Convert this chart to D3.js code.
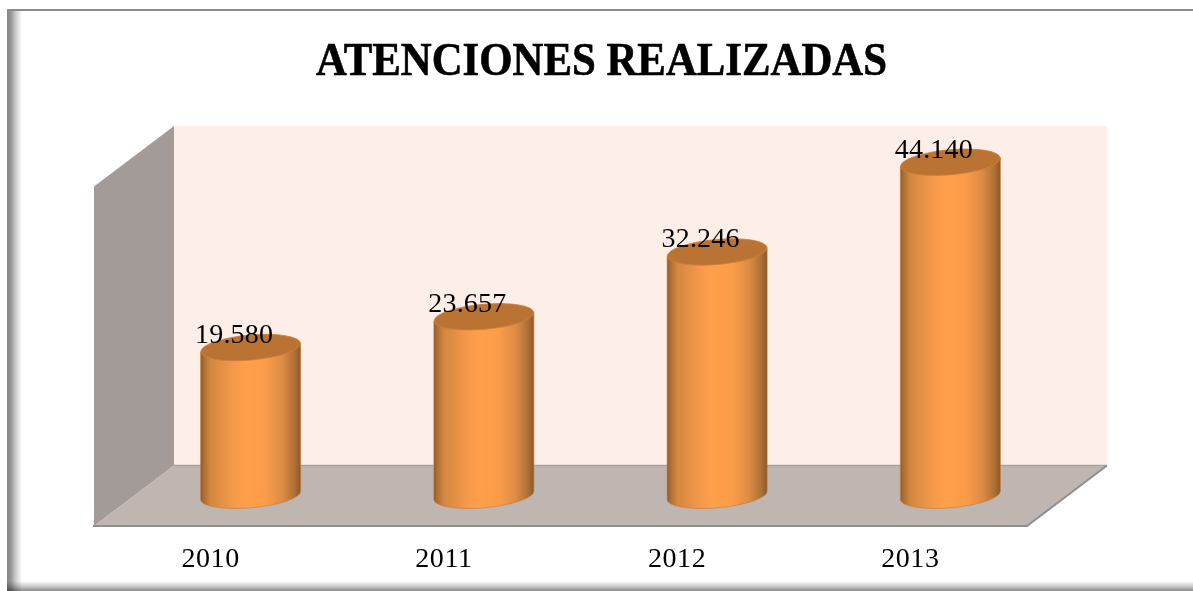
<!DOCTYPE html>
<html><head><meta charset="utf-8">
<script src="https://cdn.jsdelivr.net/npm/d3@7/dist/d3.min.js"></script>
<style>html,body{margin:0;padding:0;background:#fff}svg{display:block}text{font-family:"Liberation Serif",serif;fill:#000}</style>
</head><body><svg id="c" width="1193" height="591"></svg>
<script>
const years = ["2010","2011","2012","2013"];
const atenciones = [19580,23657,32246,44140];
const etiquetas = ["19.580","23.657","32.246","44.140"];
const titulo = "ATENCIONES REALIZADAS";

const W=1193,H=591;
const x0=94,x1=1027,yFloor=526,plotH=339.5,dx=80,dy=60.5;
const svg=d3.select("#c");
const defs=svg.append("defs");
function grad(id,dir,stops){
  const g=defs.append("linearGradient").attr("id",id);
  if(dir==="v")g.attr("x1",0).attr("y1",0).attr("x2",0).attr("y2",1);
  stops.forEach(s=>g.append("stop").attr("offset",s[0]).attr("stop-color",s[1]));
}
grad("left","h",[[0,"#858585"],[0.25,"#959595"],[0.6,"#cfcfcf"],[1,"#ffffff"]]);
grad("bottom","v",[[0,"#ffffff"],[0.5,"#d0d0d0"],[1,"#8a8a8a"]]);
grad("cyl","h",[[0,"#905a29"],[0.03,"#ac6d33"],[0.1,"#d3873f"],[0.33,"#f5994a"],[0.45,"#ff9f4b"],[0.65,"#fb9c49"],[0.82,"#dc8c44"],[0.94,"#ae7035"],[1,"#8a582b"]]);

const x=d3.scaleBand().domain(years).range([x0,x1]);
const y=d3.scaleLinear().domain([0,45000]).range([0,plotH]);

// frame
svg.append("rect").attr("x",7).attr("y",10).attr("width",15).attr("height",H-10).attr("fill","url(#left)");
svg.append("rect").attr("x",7).attr("y",581).attr("width",W-7).attr("height",10).attr("fill","url(#bottom)").style("mix-blend-mode","multiply");
svg.append("rect").attr("x",7).attr("y",9).attr("width",W-7).attr("height",2).attr("fill","#8c8c8c");

// walls
const wallTop=yFloor-dy-plotH;
const line=d3.line();
svg.append("path").attr("d",line([[x0+dx,wallTop],[x1+dx,wallTop],[x1+dx,yFloor-dy],[x0+dx,yFloor-dy]])+"Z").attr("fill","#fdeee7");
svg.append("path").attr("d",line([[x0,wallTop+dy],[x0+dx,wallTop],[x0+dx,yFloor-dy],[x0,yFloor]])+"Z").attr("fill","#a39b97");
svg.append("path").attr("d",line([[x0,yFloor],[x0+dx,yFloor-dy],[x1+dx,yFloor-dy],[x1,yFloor]])+"Z").attr("fill","#bfb5b1");
svg.append("path").attr("d",line([[x1+dx,yFloor-dy],[x0+dx,yFloor-dy]])).attr("stroke","#aaa2a0").attr("stroke-width",1.5).attr("fill","none");
svg.append("path").attr("d",line([[x0-1,yFloor],[x1,yFloor],[x1+dx,yFloor-dy]])).attr("stroke","#8f8f8f").attr("stroke-width",2).attr("fill","none");

// cylinders
const rx=50,ry=12.5,rot=-5,dl=4.5;
const cx=d=>x(d)+x.bandwidth()/2+dx/2;
const base=yFloor-dy/2-0.5;
const g=svg.append("g").selectAll("g").data(years.map((d,i)=>({y:d,v:atenciones[i],l:etiquetas[i]}))).join("g");
g.append("path").attr("fill","url(#cyl)").attr("stroke","#c87a35").attr("stroke-width",0.6)
 .attr("d",d=>{const c=cx(d.y),t=base-y(d.v);
   return `M${c-rx},${t+dl}L${c-rx},${base+dl}A${rx},${ry} ${rot} 0 0 ${c+rx},${base-dl}L${c+rx},${t-dl}Z`;});
g.append("ellipse").attr("cx",d=>cx(d.y)).attr("cy",d=>base-y(d.v)).attr("rx",rx).attr("ry",ry)
 .attr("transform",d=>`rotate(${rot} ${cx(d.y)} ${base-y(d.v)})`)
 .attr("fill","#bb7333").attr("stroke","#c9803d").attr("stroke-width",0.8);
g.append("text").attr("x",d=>cx(d.y)-16.5).attr("y",d=>base-y(d.v)-4.5).attr("text-anchor","middle").attr("font-size",28).style("letter-spacing","0.2px").text(d=>d.l);

// x axis
const ax=svg.append("g").attr("transform",`translate(0,${yFloor})`).call(d3.axisBottom(x).tickSize(0).tickPadding(21));
ax.select(".domain").remove();
ax.selectAll("text").attr("font-size",28).attr("font-family",'"Liberation Serif",serif').attr("fill","#000").style("letter-spacing","0.6px");

// title
svg.append("text").attr("x",601.5).attr("y",75).attr("text-anchor","middle").attr("font-size",47).attr("font-weight","bold")
 .attr("stroke","#000").attr("stroke-width",0.6)
 .attr("textLength",571).attr("lengthAdjust","spacingAndGlyphs").text(titulo);
</script></body></html>
